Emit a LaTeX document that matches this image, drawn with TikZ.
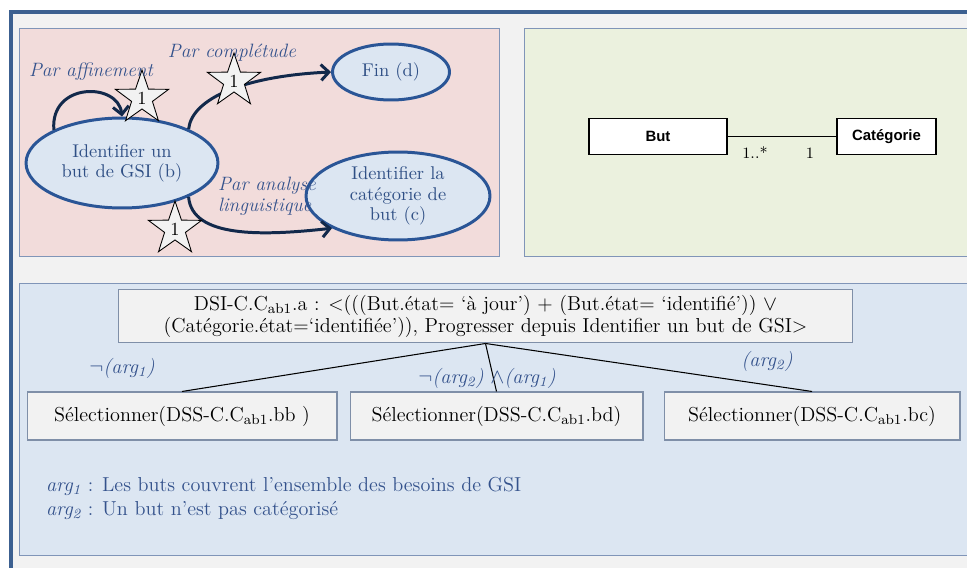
\documentclass[tikz,border=0pt]{standalone}
\usepackage{fontspec}
\newfontfamily\umlfont{Liberation Sans}
\usepackage{xcolor}
\usepackage{tikz}
\usetikzlibrary{shapes.geometric,arrows.meta,positioning}

\definecolor{cadre}{HTML}{3C6090}
\definecolor{fondgris}{HTML}{F2F2F2}
\definecolor{rose}{HTML}{F2DCDB}
\definecolor{vert}{HTML}{EBF1DE}
\definecolor{bleu}{HTML}{DCE6F2}
\definecolor{bordpanel}{HTML}{8095B8}
\definecolor{fondetat}{HTML}{DCE6F2}
\definecolor{bordetat}{HTML}{2A5596}
\definecolor{texteetat}{HTML}{2F4F85}
\definecolor{fleche}{HTML}{12294B}
\definecolor{textelbl}{HTML}{34528C}
\definecolor{bordboite}{HTML}{7F8FA8}

\begin{document}
\begin{tikzpicture}[x=0.02cm, y=-0.02cm,
  panel/.style={draw=bordpanel, line width=0.5pt},
  etat/.style={ellipse, draw=bordetat, fill=fondetat, line width=1.7pt, inner sep=0pt, align=center, text=texteetat, font=\fontsize{10.5}{11.5}\selectfont},
  trans/.style={-{Straight Barb[length=4.5pt,width=9pt]}, line width=1.7pt, draw=fleche},
  badge/.style={star, star points=5, star point ratio=2.55, minimum size=1.12cm, inner sep=0pt, draw=black, fill=fondgris, line width=0.5pt, font=\fontsize{10.5}{12}\selectfont},
  lbl/.style={text=textelbl, font=\fontsize{11}{12}\selectfont\itshape, inner sep=1pt},
  classe/.style={draw=black, fill=white, line width=0.8pt, minimum height=0.72cm, font=\umlfont\bfseries\fontsize{8.5}{10}\selectfont},
  mult/.style={inner sep=1pt, font=\fontsize{9}{10}\selectfont},
  cond/.style={draw=bordboite, fill=fondgris, line width=0.6pt, align=center, font=\fontsize{11.5}{12.5}\selectfont},
  selbox/.style={draw=bordboite, fill=fondgris, line width=0.6pt, minimum height=0.96cm, font=\fontsize{11.5}{13}\selectfont},
  argl/.style={text=textelbl, inner sep=1pt, font=\fontsize{11.5}{13}\selectfont}
]
\useasboundingbox (0,0) rectangle (967,568);
\clip (0,0) rectangle (967,568);
\fill[white] (0,0) rectangle (967,568);
\draw[cadre, line width=2pt, fill=fondgris] (11,12) rectangle (1000,600);
\draw[panel, fill=rose] (19,28) rectangle (499,256);
\draw[panel, fill=vert] (524,28) rectangle (990,256);
\draw[panel, fill=bleu] (19,283) rectangle (990,555);

\node[etat, minimum width=3.84cm, minimum height=1.8cm] (b) at (122,163) {Identifier un\\but de GSI (b)};
\node[etat, minimum width=2.34cm, minimum height=1.12cm] (d) at (391,72) {Fin (d)};
\node[etat, minimum width=3.68cm, minimum height=1.76cm] (c) at (398,196) {Identifier la\\catégorie de\\but (c)};

\draw[trans] (b.154) .. controls (50,82) and (118,82) .. (b.north);
\draw[trans] (b.27) .. controls (192,98) and (245,76) .. (d.west);
\draw[trans] (b.333) .. controls (192,238) and (262,236) .. (c.206);

\node[badge] (s1) at (142,98) {1};
\node[badge] (s2) at (234,81) {1};
\node[badge] (s3) at (175,229) {1};

\node[lbl] (laff) at (91,72) {Par affinement};
\node[lbl] (lcomp) at (232,53) {Par complétude};
\node[lbl, align=left, anchor=west] (lana) at (216,196) {Par analyse\\linguistique};

\node[classe, minimum width=2.76cm] (but) at (658,136.5) {But};
\node[classe, minimum width=1.98cm] (cat) at (886.5,136.5) {Catégorie};
\draw[line width=0.8pt] (but) -- (cat);
\node[mult] (m1) at (755,153) {1..*};
\node[mult] (m2) at (810,153) {1};

\node[cond, minimum width=14.7cm, minimum height=0.98cm] (cond) at (485.5,316) {DSI-C.C\textsubscript{ab1}.a : <(((But.état= ‘à jour’) + (But.état= ‘identifié’)) $\vee$\\(Catégorie.état=‘identifiée’)), Progresser depuis Identifier un but de GSI>};
\node[selbox, minimum width=6.2cm] (sbb) at (182,416) {Sélectionner(DSS-C.C\textsubscript{ab1}.bb )};
\node[selbox, minimum width=5.86cm] (sbd) at (496.5,416) {Sélectionner(DSS-C.C\textsubscript{ab1}.bd)};
\node[selbox, minimum width=5.92cm] (sbc) at (812,416) {Sélectionner(DSS-C.C\textsubscript{ab1}.bc)};
\draw[line width=0.6pt] (cond.south) -- (sbb.north);
\draw[line width=0.6pt] (cond.south) -- (sbd.north);
\draw[line width=0.6pt] (cond.south) -- (sbc.north);

\node[argl] (a1) at (122,368) {$\neg$\textit{(arg\textsubscript{1})}};
\node[argl] (a21) at (487,378) {$\neg$\textit{(arg\textsubscript{2})} $\wedge$\textit{(arg\textsubscript{1})}};
\node[argl] (a2) at (767,361) {\textit{(arg\textsubscript{2})}};
\node[argl, align=left, anchor=west, font=\fontsize{11.5}{13.7}\selectfont] (leg) at (44,498) {\textit{arg\textsubscript{1}} : Les buts couvrent l’ensemble des besoins de GSI\\\textit{arg\textsubscript{2}} : Un but n’est pas catégorisé};
\end{tikzpicture}
\end{document}
